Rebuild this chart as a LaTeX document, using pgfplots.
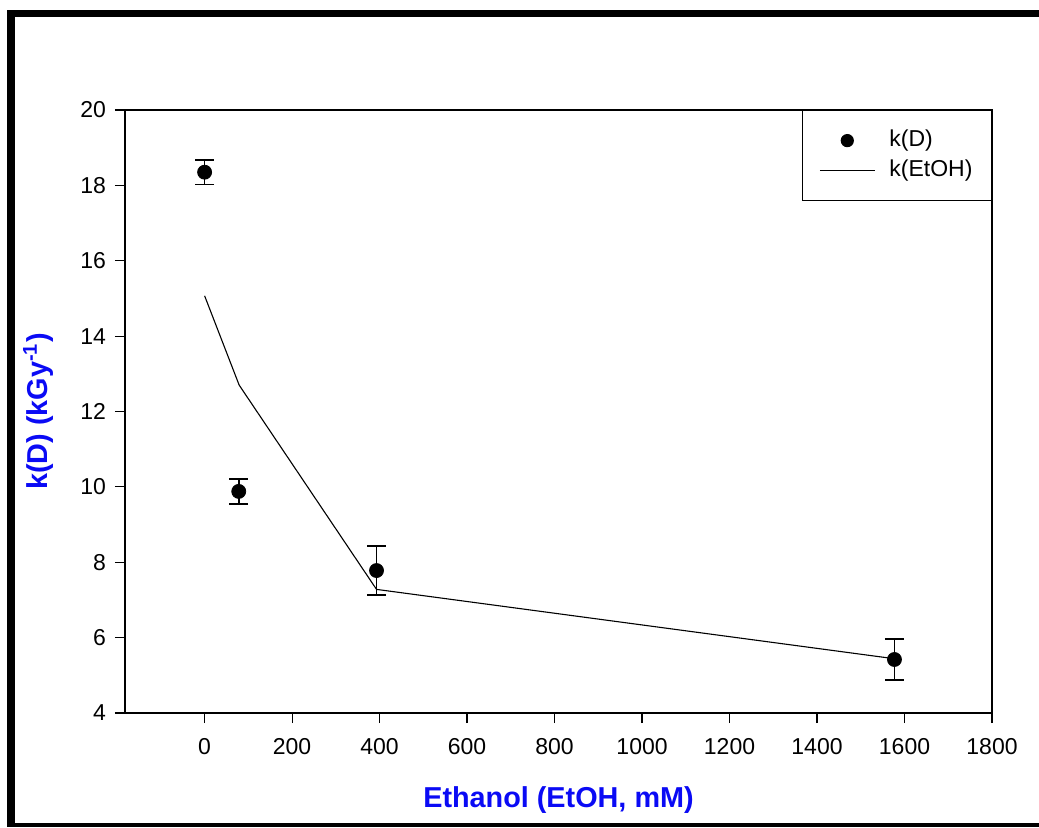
\documentclass[border=0pt]{standalone}
\usepackage{fontspec}
\setmainfont{Liberation Sans}
\usepackage{pgfplots}
\pgfplotsset{compat=1.18}
\definecolor{labelblue}{RGB}{10,10,245}
\pgfplotsset{
  short legend/.style={legend image code/.code={\draw[##1] (0pt,0pt) -- (27.5pt,0pt);}},
  mark legend/.style={legend image code/.code={\path[draw=none] (0pt,0pt) (27.5pt,0pt);
     \draw[##1, only marks, mark size=3pt, mark repeat=2, mark phase=2] plot coordinates {(0pt,0pt) (13.75pt,0pt) (27.5pt,0pt)};}},
}

\pgfplotstableread{
x y e
0 18.35 0.33
78 9.88 0.33
393 7.78 0.65
1577 5.42 0.55
}\kD

\pgfplotstableread{
x y
0 15.07
79 12.70
393 7.28
1577 5.44
}\kEtOH

\begin{document}
\begin{tikzpicture}[x=0.5pt,y=0.5pt]
\path[fill=white] (0,0) rectangle (1039,827);
\fill[black] (7,0) rectangle (15,817);
\fill[black] (7,810) rectangle (1039,817);
\fill[black] (7,0) rectangle (1039,4);
\begin{axis}[
  at={(62.5pt,57pt)}, anchor=south west,
  scale only axis, width=433.5pt, height=301.5pt,
  xmin=-182, xmax=1800, ymin=4, ymax=20,
  xtick={0,200,...,1800}, ytick={4,6,...,20},
  tick pos=left, tick align=outside, major tick length=5pt,
  axis line style={line width=0.7pt},
  tick style={line width=0.6pt, black},
  tick label style={font=\fontsize{11.5}{13}\selectfont},
  /pgf/number format/assume math mode=true,
  /pgf/number format/1000 sep={},
  xticklabel style={yshift=-4pt},
  yticklabel style={xshift=-1pt},
  xlabel={Ethanol (EtOH, mM)},
  ylabel={k(D) (kGy\textsuperscript{-1})},
  label style={font=\bfseries\fontsize{14.4}{16}\selectfont, text=labelblue},
  xlabel style={at={(axis description cs:0.5,-0.144)}, anchor=center},
  ylabel style={at={(axis description cs:-0.100,0.5)}, anchor=center},
  legend style={at={(rel axis cs:1,1)}, anchor=north east, draw=black, line width=0.6pt,
    font=\fontsize{11.5}{13}\selectfont, inner xsep=8.5pt, inner ysep=7.5pt, row sep=0pt,
    nodes={inner xsep=1pt, inner ysep=2pt, text height=8.5pt, text depth=2.5pt},
    /tikz/every odd column/.append style={column sep=6pt}},
  legend cell align=left,
]
\addplot[only marks, mark=*, mark size=3.5pt, black, mark legend,
  error bars/.cd, y dir=both, y explicit,
  error bar style={line width=0.8pt},
  error mark options={rotate=90, mark size=4.75pt, line width=0.8pt},
  ] table[x=x, y=y, y error=e] {\kD};
\addlegendentry{k(D)}
\addplot[black, line width=0.55pt, mark=none, short legend] table[x=x, y=y] {\kEtOH};
\addlegendentry{k(EtOH)}
\end{axis}
\end{tikzpicture}
\end{document}
